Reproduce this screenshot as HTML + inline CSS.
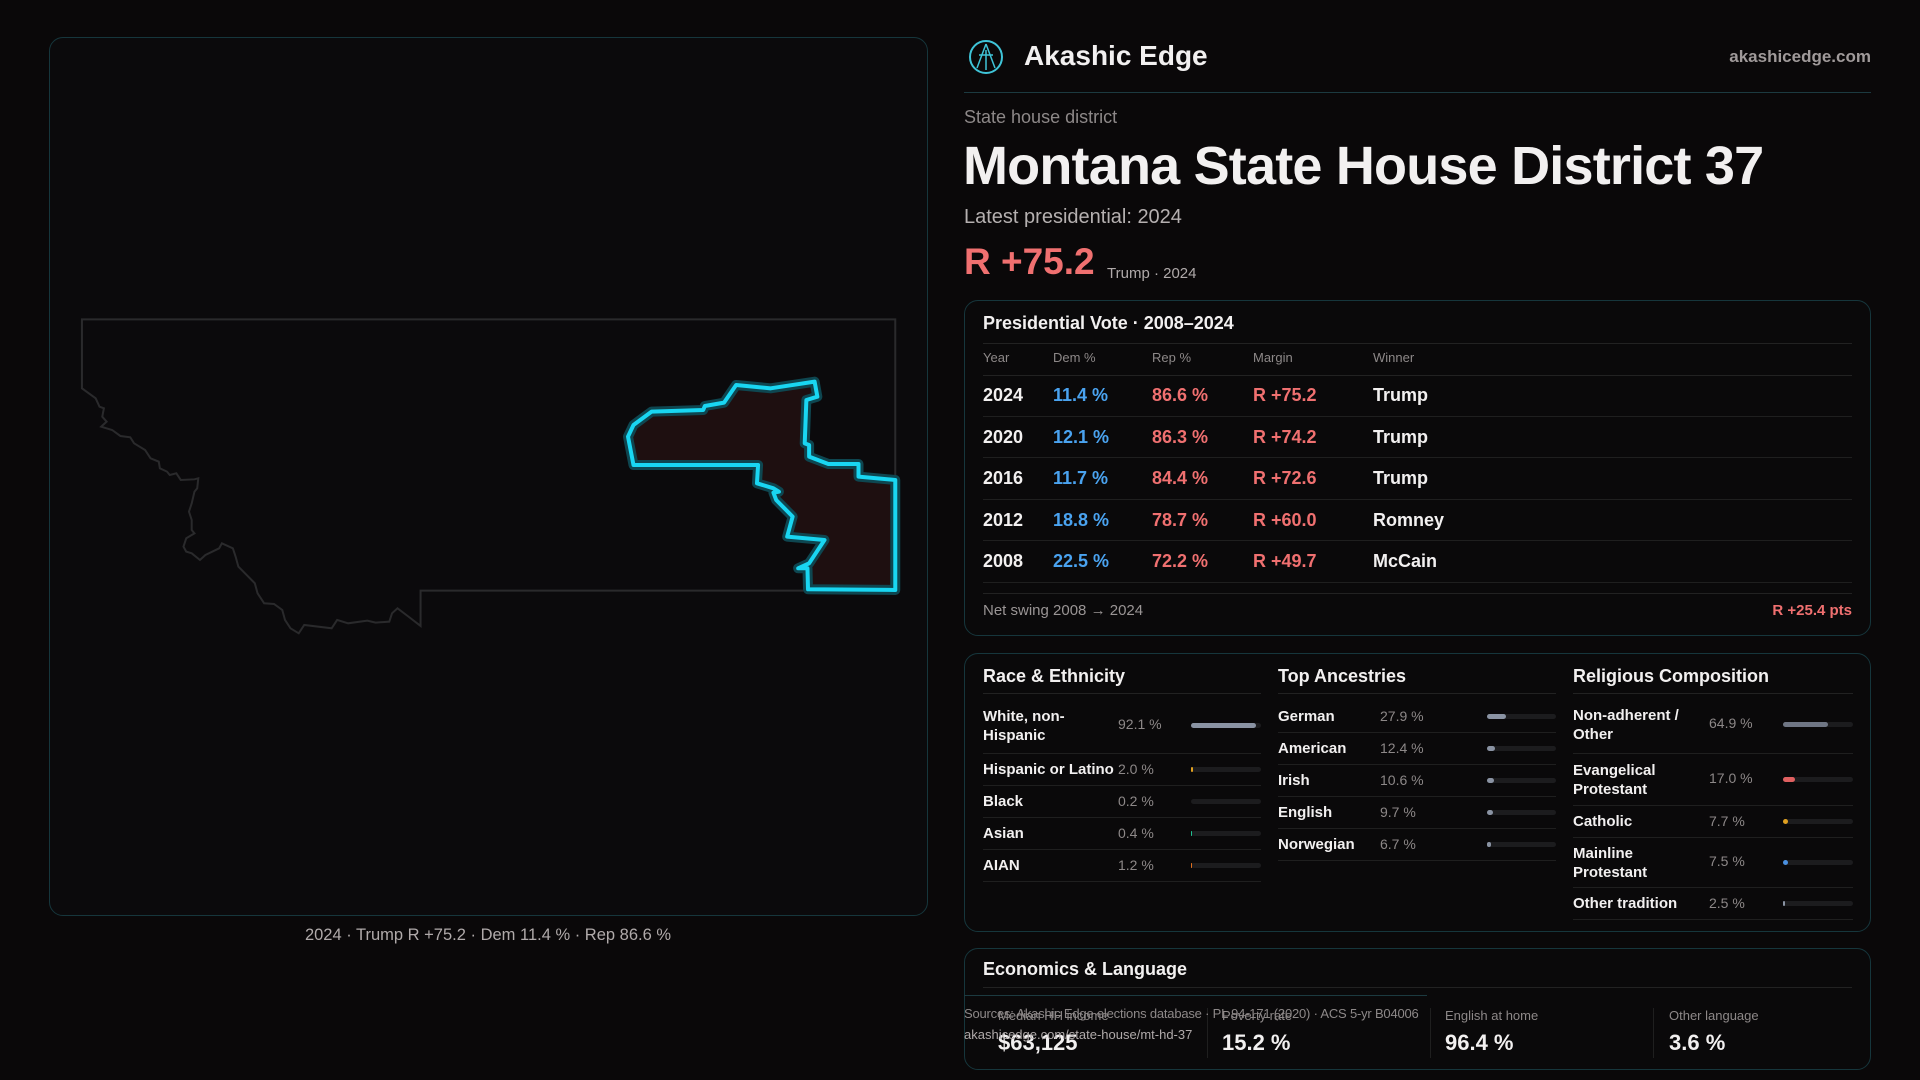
<!DOCTYPE html>
<html><head><meta charset="utf-8"><style>
*{margin:0;padding:0;box-sizing:border-box}
body{width:1920px;height:1080px;background:#0a0809;font-family:"Liberation Sans",sans-serif;color:#f2f0f0;position:relative;overflow:hidden}
.abs{position:absolute;white-space:nowrap}
.card{position:absolute;border:1px solid #16363c;border-radius:14px;background:#0a090a}
.g{color:#8d8888}
.hl{position:absolute;height:1px;background:#222}
.blue{color:#4aa3f0}.red{color:#f07070}
.bar{position:absolute;height:5px;border-radius:3px;background:#1c1c1e}
.bar i{position:absolute;left:0;top:0;height:5px;border-radius:3px}
</style></head><body>
<div class="card" style="left:49px;top:37px;width:879px;height:879px;background:#0b0a0c"></div>
<svg class="abs" style="left:0;top:0" width="960" height="1080">
<g transform="translate(60,300) scale(0.5488,0.3333)">
<path vector-effect="non-scaling-stroke" fill="none" stroke="#2a2a2c" stroke-width="2" d="M40,58 L1522,58 L1522,872 L657,872 L657,978 L635,950 L615,925 L605,940 L600,965 L575,968 L560,962 L525,970 L505,960 L495,985 L445,975 L435,1000 L420,985 L410,960 L405,930 L390,912 L372,910 L360,880 L355,850 L340,825 L325,800 L320,770 L315,745 L295,730 L290,745 L265,765 L255,780 L240,760 L230,755 L225,740 L230,715 L245,700 L240,690 L240,660 L235,635 L240,610 L245,575 L250,565 L252,535 L245,538 L220,540 L212,520 L200,525 L195,515 L182,505 L180,485 L165,475 L155,450 L135,430 L128,412 L110,408 L95,390 L75,380 L85,365 L77,350 L80,325 L72,320 L65,295 L40,265 Z"/>
<path vector-effect="non-scaling-stroke" fill="#1e0f10" stroke="#0e4650" stroke-width="10" stroke-linejoin="round" d="M1045,495 L1035,410 L1045,375 L1078,335 L1172,330 L1175,318 L1210,308 L1232,255 L1295,265 L1375,245 L1380,290 L1360,300 L1357,430 L1365,435 L1365,470 L1400,492 L1455,492 L1455,530 L1522,540 L1522,870 L1363,868 L1362,805 L1345,805 L1365,790 L1393,720 L1325,710 L1335,650 L1305,600 L1300,578 L1310,575 L1300,565 L1270,550 L1272,495 Z"/>
<path vector-effect="non-scaling-stroke" fill="none" stroke="#19d6f2" stroke-width="4" stroke-linejoin="round" d="M1045,495 L1035,410 L1045,375 L1078,335 L1172,330 L1175,318 L1210,308 L1232,255 L1295,265 L1375,245 L1380,290 L1360,300 L1357,430 L1365,435 L1365,470 L1400,492 L1455,492 L1455,530 L1522,540 L1522,870 L1363,868 L1362,805 L1345,805 L1365,790 L1393,720 L1325,710 L1335,650 L1305,600 L1300,578 L1310,575 L1300,565 L1270,550 L1272,495 Z"/>
</g></svg>
<div class="abs" style="left:0;width:976px;top:926px;text-align:center;font-size:16.5px;color:#b0aaaa">2024 · Trump R +75.2 · Dem 11.4 % · Rep 86.6 %</div>

<svg class="abs" style="left:967px;top:38px" width="38" height="38"><circle cx="19" cy="19" r="16" fill="none" stroke="#3fc4d8" stroke-width="2"/><path d="M19 6 L10 30 M19 6 L28 30 M12 17 L26 17 M19 12 L19 32" stroke="#3fc4d8" stroke-width="1.5" fill="none"/></svg>
<div class="abs" style="left:1024px;top:40px;font-size:28px;font-weight:bold">Akashic Edge</div>
<div class="abs" style="right:49px;top:47px;font-size:17px;font-weight:bold;color:#a09a9a">akashicedge.com</div>
<div class="hl" style="left:964px;width:907px;top:92px;background:#1c3a40"></div>
<div class="abs g" style="left:964px;top:107px;font-size:18px">State house district</div>
<div class="abs" style="left:963px;top:135px;font-size:54px;font-weight:bold;letter-spacing:-0.8px">Montana State House District 37</div>
<div class="abs" style="left:964px;top:206px;font-size:20px;color:#b5b0b0">Latest presidential: 2024</div>
<div class="abs red" style="left:964px;top:241px;font-size:37px;font-weight:bold">R +75.2</div>
<div class="abs" style="left:1107px;top:265px;font-size:15px;color:#b0aaaa">Trump · 2024</div>

<div class="card" style="left:964px;top:300px;width:907px;height:336px"></div>
<div class="abs" style="left:983px;top:313px;font-size:18px;font-weight:bold">Presidential Vote · 2008–2024</div>
<div class="hl" style="left:983px;width:869px;top:343px"></div>
<div class="abs g" style="left:983px;top:350px;font-size:13px">Year</div>
<div class="abs g" style="left:1053px;top:350px;font-size:13px">Dem %</div>
<div class="abs g" style="left:1152px;top:350px;font-size:13px">Rep %</div>
<div class="abs g" style="left:1253px;top:350px;font-size:13px">Margin</div>
<div class="abs g" style="left:1373px;top:350px;font-size:13px">Winner</div>
<div class="hl" style="left:983px;width:869px;top:375px"></div>
<div style="position:absolute;left:983px;top:375px;width:869px;font-size:18px;font-weight:bold">
<div style="position:relative;height:41.6px;border-bottom:1px solid #1f1f1f"><span class="abs" style="left:0;top:10px">2024</span><span class="abs blue" style="left:70px;top:10px">11.4 %</span><span class="abs red" style="left:169px;top:10px">86.6 %</span><span class="abs red" style="left:270px;top:10px">R +75.2</span><span class="abs" style="left:390px;top:10px">Trump</span></div>
<div style="position:relative;height:41.6px;border-bottom:1px solid #1f1f1f"><span class="abs" style="left:0;top:10px">2020</span><span class="abs blue" style="left:70px;top:10px">12.1 %</span><span class="abs red" style="left:169px;top:10px">86.3 %</span><span class="abs red" style="left:270px;top:10px">R +74.2</span><span class="abs" style="left:390px;top:10px">Trump</span></div>
<div style="position:relative;height:41.6px;border-bottom:1px solid #1f1f1f"><span class="abs" style="left:0;top:10px">2016</span><span class="abs blue" style="left:70px;top:10px">11.7 %</span><span class="abs red" style="left:169px;top:10px">84.4 %</span><span class="abs red" style="left:270px;top:10px">R +72.6</span><span class="abs" style="left:390px;top:10px">Trump</span></div>
<div style="position:relative;height:41.6px;border-bottom:1px solid #1f1f1f"><span class="abs" style="left:0;top:10px">2012</span><span class="abs blue" style="left:70px;top:10px">18.8 %</span><span class="abs red" style="left:169px;top:10px">78.7 %</span><span class="abs red" style="left:270px;top:10px">R +60.0</span><span class="abs" style="left:390px;top:10px">Romney</span></div>
<div style="position:relative;height:41.6px;border-bottom:1px solid #1f1f1f"><span class="abs" style="left:0;top:10px">2008</span><span class="abs blue" style="left:70px;top:10px">22.5 %</span><span class="abs red" style="left:169px;top:10px">72.2 %</span><span class="abs red" style="left:270px;top:10px">R +49.7</span><span class="abs" style="left:390px;top:10px">McCain</span></div>
</div>
<div class="hl" style="left:983px;width:869px;top:593px"></div>
<div class="abs" style="left:983px;top:602px;font-size:15px;color:#9a9595">Net swing 2008 → 2024</div>
<div class="abs red" style="right:68px;top:602px;font-size:15px;font-weight:bold">R +25.4 pts</div>

<div class="card" style="left:964px;top:653px;width:907px;height:279px"></div>
<div class="abs" style="left:983px;top:666px;font-size:18px;font-weight:bold">Race &amp; Ethnicity</div>
<div class="abs" style="left:1278px;top:666px;font-size:18px;font-weight:bold">Top Ancestries</div>
<div class="abs" style="left:1573px;top:666px;font-size:18px;font-weight:bold">Religious Composition</div>
<div class="hl" style="left:983px;width:278px;top:693px"></div>
<div class="hl" style="left:1278px;width:278px;top:693px"></div>
<div class="hl" style="left:1573px;width:280px;top:693px"></div>

<div style="position:absolute;left:983px;top:694px;width:278px;font-size:15px;font-weight:bold">
<div style="position:relative;height:60px;border-bottom:1px solid #1f1f1f"><span class="abs" style="left:0;top:13px;line-height:19px">White, non-<br>Hispanic</span><span class="abs g" style="left:135px;top:22px;font-weight:normal;font-size:14px">92.1 %</span><div class="bar" style="left:208px;top:29px;width:70px"><i style="width:65px;background:#8a93a3"></i></div></div>
<div style="position:relative;height:32px;border-bottom:1px solid #1f1f1f"><span class="abs" style="left:0;top:7px">Hispanic or Latino</span><span class="abs g" style="left:135px;top:7px;font-weight:normal;font-size:14px">2.0 %</span><div class="bar" style="left:208px;top:13px;width:70px"><i style="width:2px;background:#e0a020"></i></div></div>
<div style="position:relative;height:32px;border-bottom:1px solid #1f1f1f"><span class="abs" style="left:0;top:7px">Black</span><span class="abs g" style="left:135px;top:7px;font-weight:normal;font-size:14px">0.2 %</span><div class="bar" style="left:208px;top:13px;width:70px"></div></div>
<div style="position:relative;height:32px;border-bottom:1px solid #1f1f1f"><span class="abs" style="left:0;top:7px">Asian</span><span class="abs g" style="left:135px;top:7px;font-weight:normal;font-size:14px">0.4 %</span><div class="bar" style="left:208px;top:13px;width:70px"><i style="width:1px;background:#20c090"></i></div></div>
<div style="position:relative;height:32px;border-bottom:1px solid #1f1f1f"><span class="abs" style="left:0;top:7px">AIAN</span><span class="abs g" style="left:135px;top:7px;font-weight:normal;font-size:14px">1.2 %</span><div class="bar" style="left:208px;top:13px;width:70px"><i style="width:1px;background:#e07020"></i></div></div>
</div>
<div style="position:absolute;left:1278px;top:701px;width:278px;font-size:15px;font-weight:bold">
<div style="position:relative;height:32px;border-bottom:1px solid #1f1f1f"><span class="abs" style="left:0;top:7px">German</span><span class="abs g" style="left:102px;top:7px;font-weight:normal;font-size:14px">27.9 %</span><div class="bar" style="left:209px;top:13px;width:69px"><i style="width:19px;background:#8a93a3"></i></div></div>
<div style="position:relative;height:32px;border-bottom:1px solid #1f1f1f"><span class="abs" style="left:0;top:7px">American</span><span class="abs g" style="left:102px;top:7px;font-weight:normal;font-size:14px">12.4 %</span><div class="bar" style="left:209px;top:13px;width:69px"><i style="width:8px;background:#8a93a3"></i></div></div>
<div style="position:relative;height:32px;border-bottom:1px solid #1f1f1f"><span class="abs" style="left:0;top:7px">Irish</span><span class="abs g" style="left:102px;top:7px;font-weight:normal;font-size:14px">10.6 %</span><div class="bar" style="left:209px;top:13px;width:69px"><i style="width:7px;background:#8a93a3"></i></div></div>
<div style="position:relative;height:32px;border-bottom:1px solid #1f1f1f"><span class="abs" style="left:0;top:7px">English</span><span class="abs g" style="left:102px;top:7px;font-weight:normal;font-size:14px">9.7 %</span><div class="bar" style="left:209px;top:13px;width:69px"><i style="width:6px;background:#8a93a3"></i></div></div>
<div style="position:relative;height:32px;border-bottom:1px solid #1f1f1f"><span class="abs" style="left:0;top:7px">Norwegian</span><span class="abs g" style="left:102px;top:7px;font-weight:normal;font-size:14px">6.7 %</span><div class="bar" style="left:209px;top:13px;width:69px"><i style="width:4px;background:#8a93a3"></i></div></div>
</div>
<div style="position:absolute;left:1573px;top:694px;width:280px;font-size:15px;font-weight:bold">
<div style="position:relative;height:60px;border-bottom:1px solid #1f1f1f"><span class="abs" style="left:0;top:12px;line-height:19px">Non-adherent /<br>Other</span><span class="abs g" style="left:136px;top:21px;font-weight:normal;font-size:14px">64.9 %</span><div class="bar" style="left:210px;top:28px;width:70px"><i style="width:45px;background:#6f7684"></i></div></div>
<div style="position:relative;height:52px;border-bottom:1px solid #1f1f1f"><span class="abs" style="left:0;top:7px;line-height:19px">Evangelical<br>Protestant</span><span class="abs g" style="left:136px;top:16px;font-weight:normal;font-size:14px">17.0 %</span><div class="bar" style="left:210px;top:23px;width:70px"><i style="width:12px;background:#e06060"></i></div></div>
<div style="position:relative;height:32px;border-bottom:1px solid #1f1f1f"><span class="abs" style="left:0;top:7px">Catholic</span><span class="abs g" style="left:136px;top:7px;font-weight:normal;font-size:14px">7.7 %</span><div class="bar" style="left:210px;top:13px;width:70px"><i style="width:5px;background:#e0a020"></i></div></div>
<div style="position:relative;height:50px;border-bottom:1px solid #1f1f1f"><span class="abs" style="left:0;top:6px;line-height:19px">Mainline<br>Protestant</span><span class="abs g" style="left:136px;top:15px;font-weight:normal;font-size:14px">7.5 %</span><div class="bar" style="left:210px;top:22px;width:70px"><i style="width:5px;background:#4a90e0"></i></div></div>
<div style="position:relative;height:32px;border-bottom:1px solid #1f1f1f"><span class="abs" style="left:0;top:7px">Other tradition</span><span class="abs g" style="left:136px;top:7px;font-weight:normal;font-size:14px">2.5 %</span><div class="bar" style="left:210px;top:13px;width:70px"><i style="width:2px;background:#8a93a3"></i></div></div>
</div>

<div class="card" style="left:964px;top:948px;width:907px;height:122px"></div>
<div class="abs" style="left:983px;top:959px;font-size:18px;font-weight:bold">Economics &amp; Language</div>
<div class="hl" style="left:983px;width:869px;top:987px"></div>
<div class="hl" style="left:964px;width:463px;top:995px;background:#1c3a40"></div>
<div class="abs" style="left:1207px;top:1008px;width:1px;height:50px;background:#1f1f1f"></div>
<div class="abs" style="left:1430px;top:1008px;width:1px;height:50px;background:#1f1f1f"></div>
<div class="abs" style="left:1653px;top:1008px;width:1px;height:50px;background:#1f1f1f"></div>
<div class="abs g" style="left:998px;top:1008px;font-size:13px">Median HH income</div>
<div class="abs g" style="left:1222px;top:1008px;font-size:13px">Poverty rate</div>
<div class="abs g" style="left:1445px;top:1008px;font-size:13px">English at home</div>
<div class="abs g" style="left:1669px;top:1008px;font-size:13px">Other language</div>
<div class="abs" style="left:998px;top:1030px;font-size:22px;font-weight:bold">$63,125</div>
<div class="abs" style="left:1222px;top:1030px;font-size:22px;font-weight:bold">15.2 %</div>
<div class="abs" style="left:1445px;top:1030px;font-size:22px;font-weight:bold">96.4 %</div>
<div class="abs" style="left:1669px;top:1030px;font-size:22px;font-weight:bold">3.6 %</div>
<div class="abs" style="left:964px;top:1006px;font-size:13px;color:#8d8888;letter-spacing:-0.2px">Sources: Akashic Edge elections database · PL 94-171 (2020) · ACS 5-yr B04006</div>
<div class="abs" style="left:964px;top:1027px;font-size:13px;color:#b0aaaa">akashicedge.com/state-house/mt-hd-37</div>
</body></html>
